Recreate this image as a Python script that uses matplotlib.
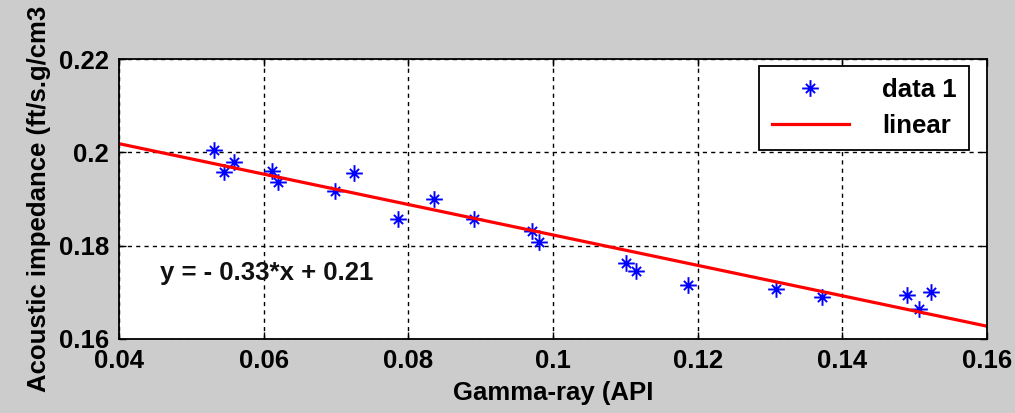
import numpy as np
import matplotlib
matplotlib.use('Agg')
import matplotlib.pyplot as plt
from matplotlib.path import Path

# data
gamma_ray = [0.0531, 0.0545, 0.0559, 0.0612, 0.0620, 0.0698, 0.0725, 0.0786,
             0.0836, 0.0891, 0.0971, 0.0980, 0.1101, 0.1115, 0.1187, 0.1308,
             0.1372, 0.1489, 0.1506, 0.1522]
impedance = [0.2004, 0.1958, 0.1979, 0.1961, 0.1936, 0.1918, 0.1956, 0.1857,
             0.1900, 0.1857, 0.1832, 0.1807, 0.1762, 0.1746, 0.1716, 0.1707,
             0.1690, 0.1695, 0.1665, 0.1700]

# linear fit as drawn
fit_slope = -0.326
fit_intercept = 0.2149
fit_x = [0.04, 0.16]

xticks = [0.04, 0.06, 0.08, 0.1, 0.12, 0.14, 0.16]
yticks = [0.16, 0.18, 0.2, 0.22]

# matlab style asterisk: long plus, shorter diagonals
d = 0.55
star_verts = [(-1, 0), (1, 0), (0, -1), (0, 1),
              (-d, -d), (d, d), (-d, d), (d, -d)]
star_codes = [Path.MOVETO, Path.LINETO] * 4
star = Path(star_verts, star_codes)

plt.rcParams['font.family'] = ['Liberation Sans', 'DejaVu Sans']
plt.rcParams['font.weight'] = 'bold'

fig = plt.figure(figsize=(10.15, 4.13), dpi=100, facecolor='#cccccc')
ax = fig.add_axes([0.1172, 0.1792, 0.8552, 0.6779])
ax.set_facecolor('white')

ax.plot(gamma_ray, impedance, linestyle='none', marker=star,
        markersize=12, markeredgewidth=1.4, color='#0000ff', label='data 1',
        zorder=3)
fit_y = [fit_slope * x + fit_intercept for x in fit_x]
ax.plot(fit_x, fit_y, color='#ff0000', linewidth=2.3, label='linear', zorder=4)

ax.set_xlim(0.04, 0.16)
ax.set_ylim(0.16, 0.22)
ax.set_xticks(xticks)
ax.set_xticklabels(['0.04', '0.06', '0.08', '0.1', '0.12', '0.14', '0.16'])
ax.set_yticks(yticks)
ax.set_yticklabels(['0.16', '0.18', '0.2', '0.22'])
ax.tick_params(direction='in', length=5, width=1, top=True, right=True,
               labelsize=18.5, pad=7, colors='black')
ax.grid(True, color='black', linestyle=(0, (3, 3)), linewidth=1)
for s in ax.spines.values():
    s.set_linewidth(1.3)
    s.set_zorder(5)

ax.set_xlabel('Gamma-ray (API', fontsize=18.5, fontweight='bold', labelpad=6)
ax.set_ylabel('Acoustic impedance (ft/s.g/cm3', fontsize=18.5,
              fontweight='bold', labelpad=6)

ax.text(0.0457, 0.1742, 'y = - 0.33*x + 0.21', fontsize=18.5,
        fontweight='bold', va='center', ha='left', color='#111111')

leg = ax.legend(loc='upper right', bbox_to_anchor=(0.979, 0.975),
                borderaxespad=0, fontsize=18.5, frameon=True, fancybox=False,
                edgecolor='black', framealpha=1, handlelength=3.0,
                handletextpad=1.3, borderpad=0.47, labelspacing=0.45,
                markerfirst=True)
leg.get_frame().set_linewidth(1.3)
leg.set_zorder(6)

fig.savefig('out.png', dpi=100, facecolor=fig.get_facecolor())
